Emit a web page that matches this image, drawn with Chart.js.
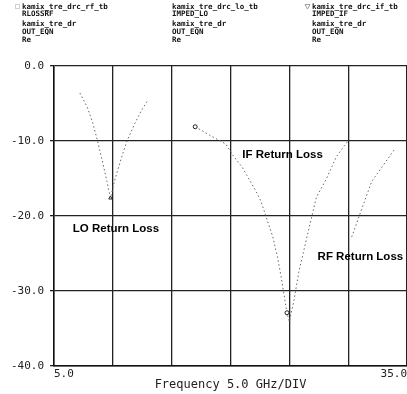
<!DOCTYPE html>
<html>
<head>
<meta charset="utf-8">
<script src="https://cdn.jsdelivr.net/npm/chart.js@4.4.1/dist/chart.umd.min.js"></script>
<style>
  html, body { margin: 0; padding: 0; background: #fff; }
  #wrap { position: relative; width: 407px; height: 394px; }
</style>
</head>
<body>
<div id="wrap"><canvas id="rlChart" width="407" height="394"></canvas></div>
<script>
// --------- data ---------
const loFreq = [7.2, 7.8, 8.3, 8.7, 9.1, 9.5, 9.8, 10.2, 10.7, 11.2, 11.8, 12.4, 13.0];
const loDb   = [-3.6, -5.4, -7.6, -10.0, -12.6, -15.4, -17.6, -15.0, -12.4, -10.0, -7.9, -6.0, -4.5];

const ifFreq = [17.0, 18.2, 19.6, 20.2, 21.0, 22.2, 22.6, 23.6, 24.0, 24.3, 24.8, 25.0, 25.4, 25.8, 26.9, 27.3, 28.1, 29.0, 29.4, 30.0];
const ifDb   = [-8.1, -9.2, -10.4, -11.9, -13.5, -16.8, -18.1, -22.8, -25.5, -28.1, -32.9, -34.1, -31.2, -27.5, -20.1, -17.5, -15.2, -12.1, -11.2, -10.0];

const rfFreq = [30.3, 31.1, 32.0, 32.5, 33.9];
const rfDb   = [-22.8, -19.3, -15.4, -14.3, -11.2];

const yTicks = [0, -10, -20, -30, -40];
const xLabels = [5, 35];

const headers = [
    ["kamix_tre_drc_rf_tb", "RLOSSRF", "kamix_tre_dr", "OUT_EQN", "Re"],
    ["kamix_tre_drc_lo_tb", "IMPED_LO", "kamix_tre_dr", "OUT_EQN", "Re"],
    ["kamix_tre_drc_if_tb", "IMPED_IF", "kamix_tre_dr", "OUT_EQN", "Re"]
];

const notes = [
    { text: "LO Return Loss", x: 6.6, y: -21.7 },
    { text: "IF Return Loss", x: 21.0, y: -11.9 },
    { text: "RF Return Loss", x: 27.4, y: -25.5 }
];

const toPts = (xs, ys) => xs.map((x, i) => ({ x: x, y: ys[i] }));

const lineStyle = {
    borderColor: '#666',
    borderWidth: 1,
    borderDash: [1.5, 2.5],
    pointBackgroundColor: '#fff',
    pointBorderColor: '#222',
    pointBorderWidth: 1,
    tension: 0,
    fill: false
};

// --------- header + text labels ---------
const textPlugin = {
    id: 'textPlugin',
    afterDraw(chart) {
        const ctx = chart.ctx;
        const xs = chart.scales.x, ys = chart.scales.y;
        ctx.save();

        // header blocks
        ctx.fillStyle = '#111';
        ctx.font = 'bold 7.5px "DejaVu Sans Mono"';
        ctx.textBaseline = 'middle';
        const colX = [22, 172, 312];
        const rowY = [7, 14, 24, 32, 40];
        headers.forEach((col, c) => {
            col.forEach((t, r) => ctx.fillText(t, colX[c], rowY[r]));
        });
        ctx.strokeStyle = '#888';
        ctx.lineWidth = 0.8;
        ctx.setLineDash([1, 1]);
        ctx.strokeRect(15.5, 4.5, 4, 4);
        ctx.setLineDash([]);
        ctx.beginPath();
        ctx.moveTo(305, 4.5); ctx.lineTo(310, 4.5); ctx.lineTo(307.5, 9);
        ctx.closePath();
        ctx.stroke();

        // curve labels
        ctx.fillStyle = '#000';
        ctx.font = 'bold 11.5px "Liberation Sans"';
        ctx.textAlign = 'left';
        notes.forEach(n => {
            ctx.fillText(n.text, xs.getPixelForValue(n.x), ys.getPixelForValue(n.y));
        });
        ctx.restore();
    }
};

const canvas = document.getElementById('rlChart');
new Chart(canvas, {
    type: 'line',
    data: {
        datasets: [
            Object.assign({ label: 'LO', data: toPts(loFreq, loDb),
                pointRadius: loFreq.map((f, i) => i === 6 ? 2 : 0), pointStyle: 'triangle' }, lineStyle),
            Object.assign({ label: 'IF', data: toPts(ifFreq, ifDb),
                pointRadius: ifFreq.map((f, i) => (i === 0 || i === 10) ? 2 : 0) }, lineStyle),
            Object.assign({ label: 'RF', data: toPts(rfFreq, rfDb), pointRadius: 0 }, lineStyle)
        ]
    },
    options: {
        responsive: false,
        animation: false,
        devicePixelRatio: 1,
        layout: { autoPadding: false, padding: { top: 66, right: 0, left: 0, bottom: 0 } },
        plugins: { legend: { display: false }, tooltip: { enabled: false } },
        scales: {
            x: {
                type: 'linear',
                min: 5, max: 35,
                border: { color: '#111', width: 1.5 },
                grid: { color: '#222', lineWidth: 1.3, drawTicks: false },
                ticks: {
                    stepSize: 5,
                    autoSkip: false,
                    maxRotation: 0,
                    align: 'inner',
                    padding: 2,
                    color: '#222',
                    font: { family: '"DejaVu Sans Mono"', size: 11 },
                    callback: v => xLabels.includes(v) ? v.toFixed(1) : ''
                },
                title: {
                    display: true,
                    text: 'Frequency 5.0 GHz/DIV',
                    color: '#222',
                    font: { family: '"DejaVu Sans Mono"', size: 12 },
                    padding: { top: 2, bottom: 2 }
                },
                afterFit: s => { s.height = 28; s.paddingLeft = 0; s.paddingRight = 0; }
            },
            y: {
                min: -40, max: 0,
                border: { color: '#111', width: 1.5 },
                grid: { color: '#222', lineWidth: 1.3, tickLength: 4 },
                afterBuildTicks: s => { s.ticks = yTicks.map(v => ({ value: v })); },
                ticks: {
                    padding: 6,
                    color: '#222',
                    font: { family: '"DejaVu Sans Mono"', size: 11 },
                    callback: v => v.toFixed(1)
                },
                afterFit: s => { s.width = 54; }
            }
        }
    },
    plugins: [textPlugin]
});
</script>
</body>
</html>
